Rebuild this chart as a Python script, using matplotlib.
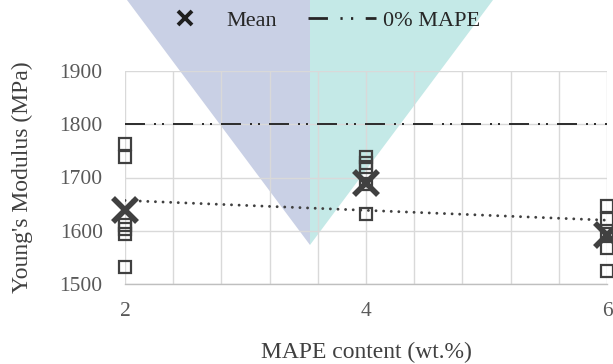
import numpy as np
import matplotlib
matplotlib.use('Agg')
import matplotlib.pyplot as plt
from matplotlib.lines import Line2D
from matplotlib.patches import Polygon

plt.rcParams['font.family'] = ['Liberation Serif', 'DejaVu Serif']

# Young's modulus of each specimen (MPa) for every MAPE loading
mape_content = [2, 4, 6]
samples_2 = [1763, 1738, 1611, 1603, 1594, 1532]
samples_4 = [1739, 1728, 1720, 1688, 1631]
samples_6 = [1647, 1622, 1594, 1568, 1525]
mean_modulus = [1640, 1690, 1592]

# linear trend of the mean values
trend_x = [2, 6]
trend_y = [1657, 1620]

# reference value without MAPE
baseline = 1800

W, H = 613, 364
fig = plt.figure(figsize=(W / 100, H / 100), dpi=100)
fig.patch.set_facecolor('white')

# two-tone backdrop behind the plot
apex = (310 / W, 1 - 245 / H)
left_half = Polygon([(127 / W, 1), (310 / W, 1), apex], closed=True,
                    transform=fig.transFigure, facecolor='#c9d0e5', edgecolor='none', zorder=-2)
right_half = Polygon([(310 / W, 1), (493 / W, 1), apex], closed=True,
                     transform=fig.transFigure, facecolor='#c4e9e7', edgecolor='none', zorder=-2)
fig.patches.extend([left_half, right_half])

ax = fig.add_axes([125 / W, 1 - 284.3 / H, 482 / W, 213.6 / H])
ax.set_facecolor('none')

dark = '#404040'
grey_text = '#595959'

for x, vals in zip(mape_content, [samples_2, samples_4, samples_6]):
    ax.plot([x] * len(vals), vals, linestyle='none', marker='s', markersize=8,
            markerfacecolor='none', markeredgecolor=dark, markeredgewidth=1.6,
            clip_on=False, zorder=4)

ax.plot(mape_content, mean_modulus, linestyle='none', marker='x', markersize=17,
        markeredgewidth=4, color=dark, clip_on=False, zorder=5)

ax.plot(trend_x, trend_y, color=dark, linewidth=2.1,
        linestyle=(0, (0.01, 2.6)), dash_capstyle='round', zorder=3)

dashdot = (0, (10, 4.5, 1, 3, 1, 4.5))
ax.axhline(baseline, color='#303030', linewidth=1.44, linestyle=dashdot,
           dash_capstyle='butt', zorder=3)

ax.set_xlim(2, 6)
ax.set_ylim(1500, 1900)
ax.set_xticks(np.arange(2, 6.01, 0.4), minor=True)
ax.set_xticks([2, 4, 6])
ax.set_yticks([1500, 1600, 1700, 1800, 1900])
ax.grid(True, which='both', axis='x', color='#d9d9d9', linewidth=1)
ax.grid(True, which='major', axis='y', color='#d9d9d9', linewidth=1)
ax.set_axisbelow(True)
for side in ['top', 'right', 'left']:
    ax.spines[side].set_visible(False)
ax.spines['bottom'].set_color('#bfbfbf')
ax.spines['bottom'].set_linewidth(1)

ax.tick_params(axis='both', which='both', length=0, labelsize=15.5, labelcolor=grey_text)
ax.tick_params(axis='y', pad=16)
ax.tick_params(axis='x', pad=13)

ax.set_xlabel('MAPE content (wt.%)', fontsize=17, color=dark)
ax.set_ylabel("Young's Modulus (MPa)", fontsize=17, color=dark)
ax.xaxis.set_label_coords(0.5, -0.27)
ax.yaxis.set_label_coords(-0.19, 0.5)

handles = [
    Line2D([], [], linestyle='none', marker='x', markersize=10, markeredgewidth=2.8, color='#1f1f1f'),
    Line2D([], [], color='#262626', linewidth=2, linestyle=(0, (7, 4.5, 0.8, 3, 0.8, 4.5))),
]
fig.legend(handles, ['Mean', '0% MAPE'], loc='center', bbox_to_anchor=(316 / W, 1 - 21 / H),
           ncol=2, frameon=False, fontsize=16, handlelength=3.06, handletextpad=0.32,
           columnspacing=1.4, labelcolor='#262626')

fig.savefig('out.png', dpi=100, facecolor='white')
